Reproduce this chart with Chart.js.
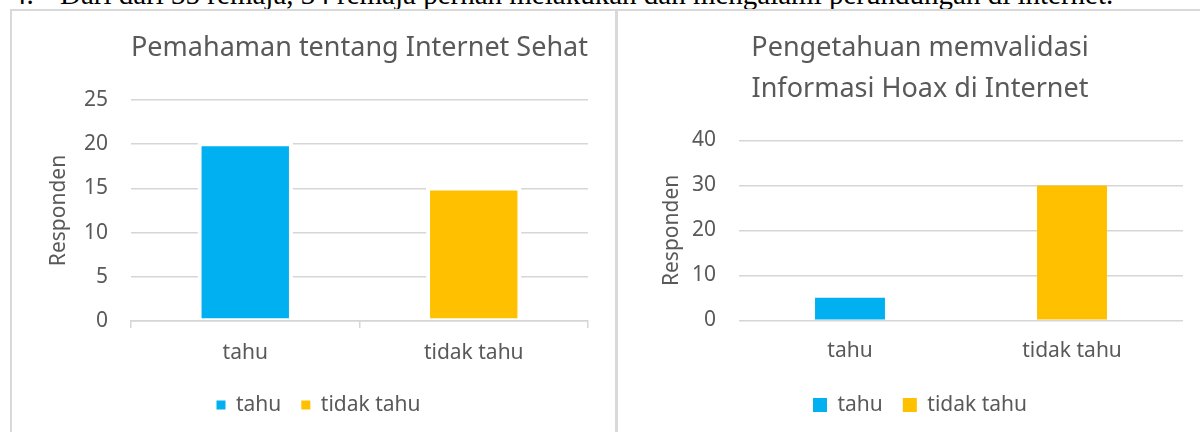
<!DOCTYPE html>
<html>
<head>
<meta charset="utf-8">
<title>Responden</title>
<script src="https://cdn.jsdelivr.net/npm/chart.js@4.4.1/dist/chart.umd.min.js"></script>
<style>
    html, body { margin: 0; padding: 0; background: #fff; }
    body { position: relative; width: 1200px; height: 432px; overflow: hidden; }
    #caption { position: absolute; left: 0; top: -20px; width: 1200px; height: 40px; font-family: "Liberation Serif", "Times New Roman", serif; font-size: 29px; line-height: 29px; color: #000; white-space: nowrap; }
    #caption span { position: absolute; top: 0; }
    .panel { position: absolute; top: 9px; height: 440px; border: 2px solid #d9d9d9; box-sizing: border-box; background: #fff; }
    #panelLeft { left: 10px; width: 607px; }
    #panelRight { left: 616px; width: 608px; }
    canvas { display: block; }
</style>
</head>
<body>
<div id="caption"><span style="left:12px">4.</span><span style="left:60px">Dari dari 35 remaja, 34 remaja pernah melakukan dan mengalami perundungan di internet.</span></div>
<div class="panel" id="panelLeft"><canvas id="chartLeft" width="603" height="421"></canvas></div>
<div class="panel" id="panelRight"><canvas id="chartRight" width="604" height="421"></canvas></div>
<script>
// Data
const categories = ['tahu', 'tidak tahu'];
const internetSehat = [20, 15];     // Pemahaman tentang Internet Sehat
const validasiHoax = [5, 30];       // Pengetahuan memvalidasi Informasi Hoax
const barColors = ['#00B0F0', '#FFC000'];
const leftTicks = { min: 0, max: 25, step: 5 };
const rightTicks = { min: 0, max: 40, step: 10 };

const textColor = '#595959';
const gridColor = '#d6d6d6';

Chart.defaults.font.family = "'Noto Sans', sans-serif";
Chart.defaults.color = textColor;

// one dataset per category so the legend lists both, bars stay centred
function buildDatasets(values, extra) {
    return categories.map((name, i) => Object.assign({
        label: name,
        data: values.map((v, j) => (j === i ? v : null)),
        backgroundColor: barColors[i],
        grouped: false,
        categoryPercentage: 1
    }, extra));
}

// legend boxes without the white bar outline
function plainLegendLabels(chart) {
    return Chart.defaults.plugins.legend.labels.generateLabels(chart)
        .map(item => Object.assign(item, { lineWidth: 0 }));
}

// Left chart
new Chart(document.getElementById('chartLeft'), {
    type: 'bar',
    data: {
        labels: categories,
        datasets: buildDatasets(internetSehat, {
            barPercentage: 0.4,
            borderColor: '#ffffff',
            borderWidth: 4,
            borderSkipped: false,
            inflateAmount: 2
        })
    },
    options: {
        responsive: false,
        animation: false,
        layout: { padding: { left: 10, bottom: 6.5 } },
        plugins: {
            title: {
                display: true,
                text: 'Pemahaman tentang Internet Sehat',
                fullSize: false,
                color: textColor,
                font: { size: 27, weight: 'normal' },
                padding: { top: 21, bottom: 35.6 }
            },
            legend: {
                position: 'bottom',
                labels: { boxWidth: 9, boxHeight: 9, padding: 20, color: textColor, font: { size: 21 }, generateLabels: plainLegendLabels }
            },
            tooltip: { enabled: false }
        },
        scales: {
            x: {
                grid: { display: true, drawOnChartArea: false, drawTicks: true, tickLength: 7, color: gridColor, lineWidth: 1.5, offset: true },
                border: { display: true, color: gridColor, width: 1.5, z: 1 },
                ticks: { padding: 12, color: textColor, font: { size: 21 } },
                afterFit: s => { s.height = 53.5; }
            },
            y: {
                min: leftTicks.min,
                max: leftTicks.max,
                ticks: { stepSize: leftTicks.step, padding: 23, color: textColor, font: { size: 21 } },
                grid: { color: gridColor, lineWidth: 1.5, drawTicks: false },
                border: { display: false },
                title: { display: true, text: 'Responden', color: textColor, font: { size: 21 }, padding: { top: 24.4, bottom: 0 } },
                afterFit: s => { s.width = 109; }
            },
            pad: {
                position: 'right',
                grid: { display: false },
                ticks: { display: false },
                border: { display: false },
                afterFit: s => { s.width = 27; }
            }
        }
    }
});

// Right chart
new Chart(document.getElementById('chartRight'), {
    type: 'bar',
    data: {
        labels: categories,
        datasets: buildDatasets(validasiHoax, {
            barPercentage: 0.315,
            borderWidth: 0
        })
    },
    options: {
        responsive: false,
        animation: false,
        layout: { padding: { bottom: 6.5 } },
        plugins: {
            title: {
                display: true,
                text: ['Pengetahuan memvalidasi', 'Informasi Hoax di Internet'],
                color: textColor,
                font: { size: 27, weight: 'normal', lineHeight: 41 / 27 },
                padding: { top: 16.5, bottom: 31 }
            },
            legend: {
                position: 'bottom',
                labels: { boxWidth: 14, boxHeight: 14, padding: 20, color: textColor, font: { size: 21 } }
            },
            tooltip: { enabled: false }
        },
        scales: {
            x: {
                grid: { display: false },
                border: { display: false },
                ticks: { padding: 10, color: textColor, font: { size: 21 } },
                afterFit: s => { s.height = 54.2; }
            },
            y: {
                min: rightTicks.min,
                max: rightTicks.max,
                ticks: { stepSize: rightTicks.step, padding: 23, color: textColor, font: { size: 21 } },
                grid: { color: gridColor, lineWidth: 1.5, drawTicks: false },
                border: { display: false },
                title: { display: true, text: 'Responden', color: textColor, font: { size: 21 }, padding: { top: 41, bottom: 0 } },
                afterFit: s => { s.width = 121; }
            },
            pad: {
                position: 'right',
                grid: { display: false },
                ticks: { display: false },
                border: { display: false },
                afterFit: s => { s.width = 39; }
            }
        }
    }
});
</script>
</body>
</html>
